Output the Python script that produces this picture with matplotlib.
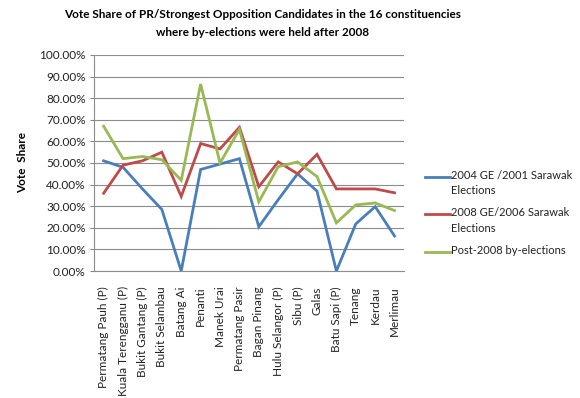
import matplotlib
matplotlib.use("Agg")
import matplotlib.pyplot as plt
from matplotlib.lines import Line2D
from matplotlib.ticker import FuncFormatter, MultipleLocator

plt.rcParams["font.family"] = ["Lato", "DejaVu Sans"]

constituencies = [
    "Permatang Pauh (P)", "Kuala Terengganu (P)", "Bukit Gantang (P)",
    "Bukit Selambau", "Batang Ai", "Penanti", "Manek Urai", "Permatang Pasir",
    "Bagan Pinang", "Hulu Selangor (P)", "Sibu (P)", "Galas",
    "Batu Sapi (P)", "Tenang", "Kerdau", "Merlimau",
]
ge2004 = [0.51, 0.48, 0.38, 0.285, 0.0, 0.47, 0.495, 0.52,
          0.205, 0.33, 0.45, 0.37, 0.0, 0.218, 0.298, 0.162]
ge2008 = [0.36, 0.49, 0.51, 0.55, 0.345, 0.59, 0.565, 0.665,
          0.39, 0.505, 0.45, 0.54, 0.38, 0.38, 0.38, 0.362]
post2008 = [0.67, 0.52, 0.53, 0.515, 0.42, 0.865, 0.50, 0.655,
            0.32, 0.483, 0.505, 0.437, 0.223, 0.306, 0.315, 0.28]

series = [
    ("2004 GE /2001 Sarawak\nElections", ge2004, "#4a7ebb"),
    ("2008 GE/2006 Sarawak\nElections", ge2008, "#be4b48"),
    ("Post-2008 by-elections", post2008, "#98b954"),
]

W, H = 580, 398
fig = plt.figure(figsize=(W / 100, H / 100), dpi=100)
ax = fig.add_axes([0.162, 0.319, 0.535, 0.543])

x = range(len(constituencies))
for label, vals, color in series:
    ax.plot(x, vals, color=color, lw=2.0, label=label, solid_joinstyle="miter")

ax.set_xlim(-0.5, len(constituencies) - 0.5)
ax.set_ylim(0, 1.0)
ax.yaxis.set_major_locator(MultipleLocator(0.1))
ax.yaxis.set_major_formatter(FuncFormatter(lambda v, _: f"{v * 100:.2f}%"))
ax.set_xticks(list(x))
ax.set_xticklabels(constituencies, rotation=90, fontsize=8.5, color="#222222")
ax.tick_params(axis="x", length=0, pad=11)
ax.tick_params(axis="y", length=3, color="#888888", labelsize=8.5,
               labelcolor="#222222", pad=3)
ax.grid(axis="y", color="#8c8c8c", lw=0.8)
ax.set_axisbelow(True)
for side in ("top", "right"):
    ax.spines[side].set_visible(False)
for side in ("left", "bottom"):
    ax.spines[side].set_color("#8c8c8c")
    ax.spines[side].set_linewidth(0.8)

ax.set_ylabel("Vote  Share", fontsize=8.5, fontweight="bold", labelpad=8)

fig.text(0.452, 1 - 9 / H,
         "Vote Share of PR/Strongest Opposition Candidates in the 16 constituencies\n"
         "where by-elections were held after 2008",
         ha="center", va="top", fontsize=8.5, fontweight="bold",
         linespacing=1.75)

# legend drawn by hand so the swatch sits on the first text line (Excel style)
legend_rows = [177, 214, 252]
for (label, _, color), ypx in zip(series, legend_rows):
    yf = 1 - ypx / H
    fig.add_artist(Line2D([425 / W, 450 / W], [yf, yf], color=color, lw=2.0,
                          transform=fig.transFigure))
    fig.text(451 / W, 1 - (ypx - 7) / H, label, ha="left", va="top",
             fontsize=8, color="#222222", linespacing=1.5)

fig.savefig("out.png", dpi=100)
